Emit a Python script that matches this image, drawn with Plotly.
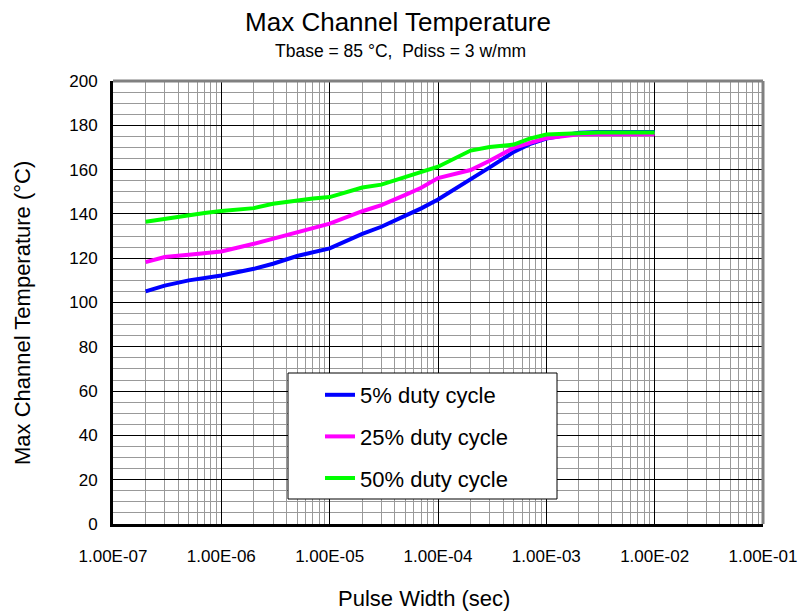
import plotly.graph_objects as go

pulse_width = [2e-7, 3e-7, 5e-7, 7e-7, 1e-6, 2e-6, 3e-6, 5e-6, 7e-6, 1e-5,
               2e-5, 3e-5, 5e-5, 7e-5, 1e-4, 2e-4, 3e-4, 5e-4, 7e-4, 1e-3,
               2e-3, 3e-3, 5e-3, 1e-2]
duty5 = [105.0, 107.6, 110.0, 111.2, 112.2, 115.2, 117.5, 121.0, 122.8, 124.4,
         131.0, 134.2, 139.2, 142.5, 146.5, 155.5, 161.0, 168.0, 171.5, 174.0,
         176.6, 177.0, 177.0, 177.0]
duty25 = [118.2, 120.5, 121.6, 122.2, 123.0, 126.5, 128.8, 131.5, 133.5, 135.6,
          141.2, 144.0, 148.6, 151.8, 156.2, 159.8, 164.0, 169.8, 172.0, 174.2,
          176.0, 176.0, 176.0, 176.0]
duty50 = [136.5, 137.9, 139.3, 140.4, 141.3, 142.6, 144.6, 146.3, 147.0, 147.6,
          151.9, 153.2, 156.5, 158.8, 161.3, 168.6, 170.2, 171.3, 174.0, 175.8,
          176.7, 176.8, 176.8, 176.8]
series_names = ["5% duty cycle", "25% duty cycle", "50% duty cycle"]
series_colors = ["#0000FF", "#FF00FF", "#00FF00"]

x_tickvals = [1e-7, 1e-6, 1e-5, 1e-4, 1e-3, 1e-2, 1e-1]
x_ticktext = ["1.00E-07", "1.00E-06", "1.00E-05", "1.00E-04", "1.00E-03", "1.00E-02", "1.00E-01"]
y_tickvals = list(range(0, 201, 20))

FONT = "Liberation Sans, Arial, sans-serif"

# plot area in pixels: left 113, right 763, top 81, bottom 524
def px_x(p):
    return (p - 113) / 650

def px_y(p):
    return (524 - p) / 443

fig = go.Figure()
for i, (name, ys, col) in enumerate(zip(series_names, [duty5, duty25, duty50], series_colors)):
    fig.add_trace(go.Scatter(x=pulse_width, y=ys, mode="lines", name=name,
                             line=dict(color=col, width=4), legendgroup=f"g{i}"))

fig.update_layout(
    width=804, height=611,
    margin=dict(l=113, r=41, t=81, b=87, autoexpand=False),
    paper_bgcolor="white", plot_bgcolor="white",
    font=dict(family=FONT, color="black"),
    title=dict(text="Max Channel Temperature", x=398 / 804, xanchor="center",
               y=1 - 22 / 611, yanchor="middle", yref="container",
               font=dict(size=26, family=FONT, color="black")),
    showlegend=True,
    legend=dict(x=px_x(320), y=px_y(374), xanchor="left", yanchor="top",
                bgcolor="rgba(0,0,0,0)", borderwidth=0,
                font=dict(size=22, family=FONT, color="black"),
                tracegroupgap=10, itemwidth=30),
    annotations=[
        dict(text="Tbase = 85 °C,\u00a0\u00a0Pdiss = 3 w/mm", xref="paper", yref="paper",
             x=px_x(400), y=px_y(51), xanchor="center", yanchor="middle",
             showarrow=False, font=dict(size=17.5, family=FONT, color="black")),
        dict(text="Pulse Width (sec)", xref="paper", yref="paper",
             x=px_x(424), y=px_y(598), xanchor="center", yanchor="middle",
             showarrow=False, font=dict(size=22, family=FONT, color="black")),
        dict(text="Max Channel Temperature (°C)", xref="paper", yref="paper",
             x=px_x(22), y=px_y(313), xanchor="center", yanchor="middle", textangle=-90,
             showarrow=False, font=dict(size=22, family=FONT, color="black")),
    ],
    shapes=[
        dict(type="rect", xref="paper", yref="paper",
             x0=px_x(288), x1=px_x(557), y0=px_y(499), y1=px_y(373),
             fillcolor="white", line=dict(color="black", width=1), layer="above"),
        dict(type="line", xref="paper", yref="paper", x0=0, x1=1, y0=1, y1=1,
             line=dict(color="#808080", width=3), layer="above"),
        dict(type="line", xref="paper", yref="paper", x0=1, x1=1, y0=0, y1=1,
             line=dict(color="#808080", width=3), layer="above"),
    ],
)

fig.update_xaxes(type="log", range=[-7, -1], tickvals=x_tickvals, ticktext=x_ticktext,
                 showgrid=True, gridcolor="black", gridwidth=1,
                 minor=dict(dtick="D1", showgrid=True, gridcolor="#999999", gridwidth=1, ticks=""),
                 showline=True, linecolor="black", linewidth=3, ticks="",
                 tickfont=dict(size=17, family=FONT, color="black"), ticklabelstandoff=15,
                 zeroline=False)
fig.update_yaxes(range=[0, 200], tickvals=y_tickvals, showgrid=True, gridcolor="black", gridwidth=1,
                 minor=dict(dtick=5, showgrid=True, gridcolor="#999999", gridwidth=1, ticks=""),
                 showline=True, linecolor="black", linewidth=3, ticks="",
                 tickfont=dict(size=17, family=FONT, color="black"), ticklabelstandoff=9,
                 zeroline=False)

fig.write_html("out.html")
